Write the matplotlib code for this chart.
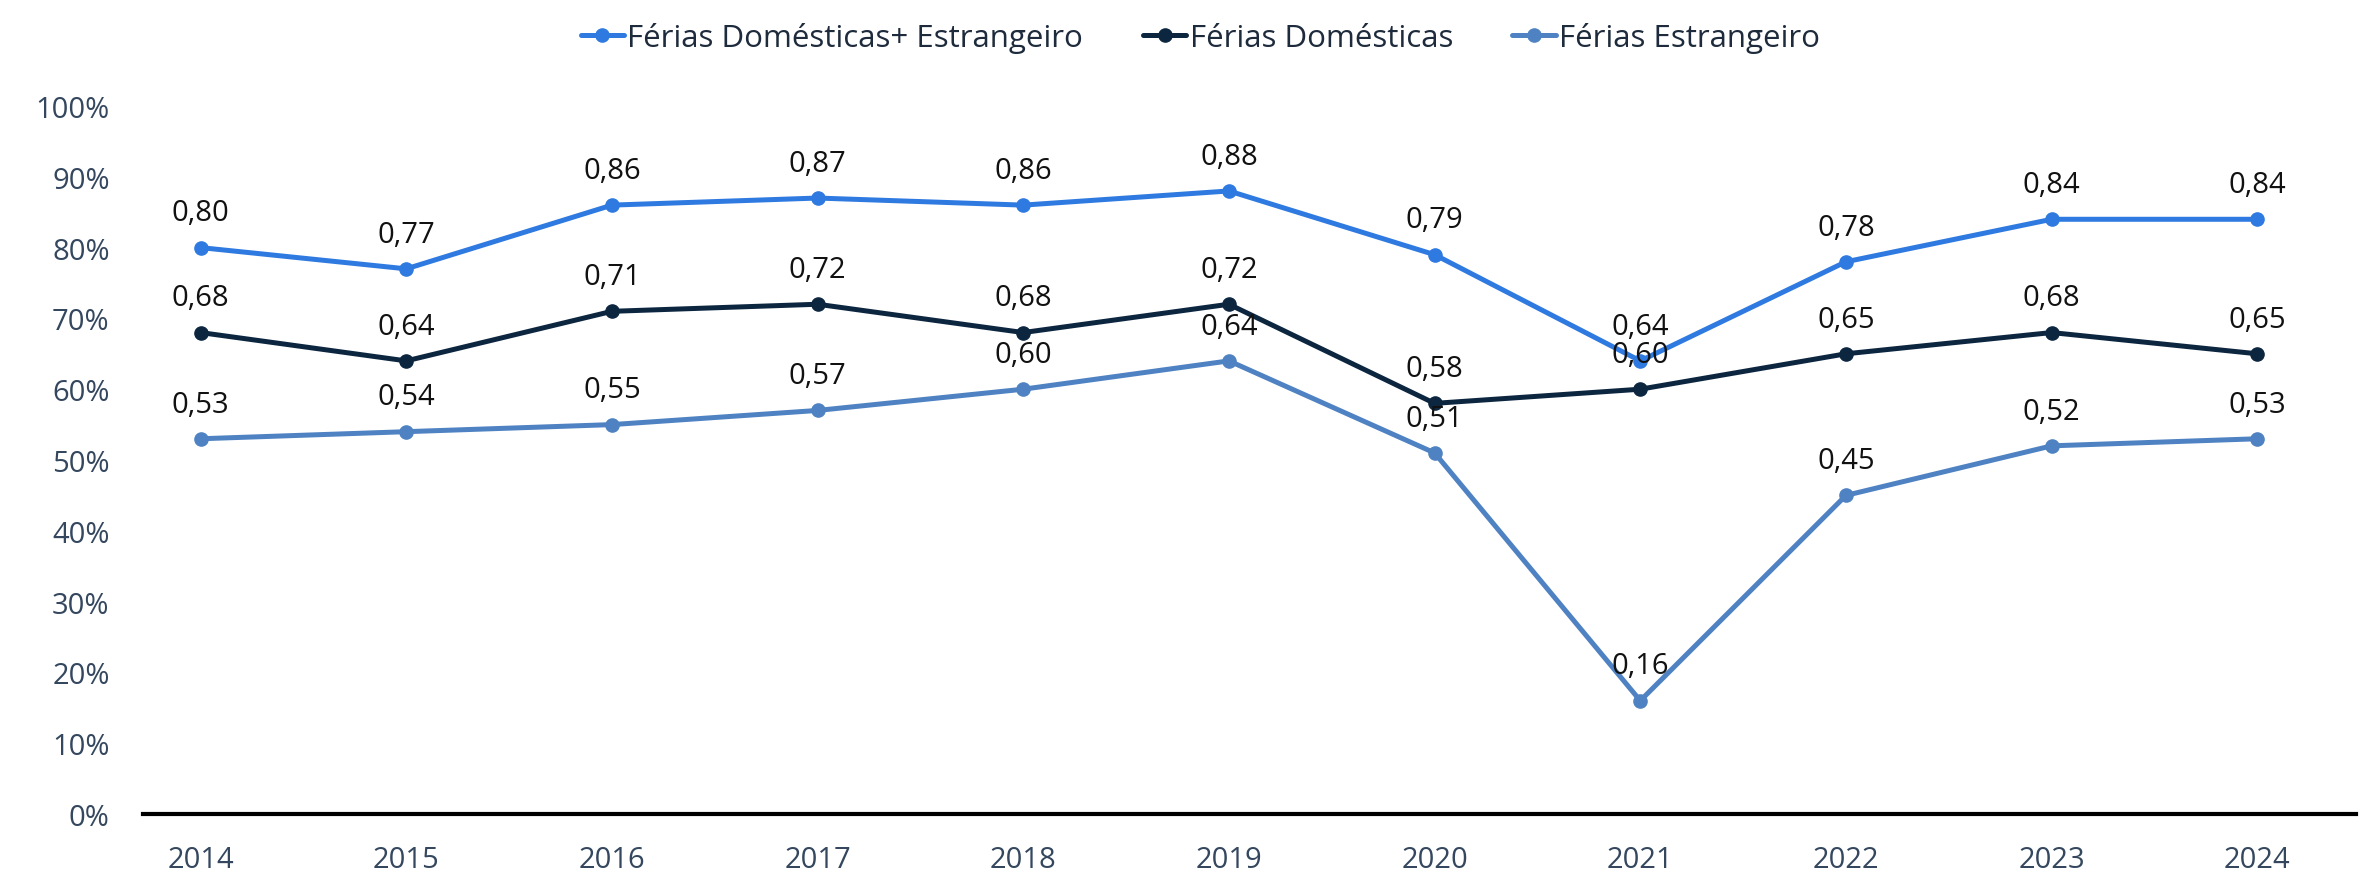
import matplotlib.pyplot as plt
from matplotlib.ticker import FuncFormatter

years = ['2014', '2015', '2016', '2017', '2018', '2019', '2020', '2021', '2022', '2023', '2024']
total = [0.80, 0.77, 0.86, 0.87, 0.86, 0.88, 0.79, 0.64, 0.78, 0.84, 0.84]
domestic = [0.68, 0.64, 0.71, 0.72, 0.68, 0.72, 0.58, 0.60, 0.65, 0.68, 0.65]
abroad = [0.53, 0.54, 0.55, 0.57, 0.60, 0.64, 0.51, 0.16, 0.45, 0.52, 0.53]
series_names = ['Férias Domésticas+ Estrangeiro', 'Férias Domésticas', 'Férias Estrangeiro']

COLORS = ['#2f7ae0', '#0d2640', '#4f82c2']
TICK = '#34475e'
FONT = 'Open Sans'

plt.rcParams['font.family'] = [FONT, 'DejaVu Sans']

fig = plt.figure(figsize=(23.63, 8.87), dpi=100)
ax = fig.add_axes([143 / 2363, 1 - 815 / 887, (2356 - 143) / 2363, (815 - 107) / 887])

x = list(range(len(years)))
handles = []
for vals, name, col in zip([total, domestic, abroad], series_names, COLORS):
    h, = ax.plot(x, vals, color=col, lw=3.6, marker='o', ms=9.5, label=name,
                 solid_capstyle='round')
    handles.append(h)
    for xi, v in zip(x, vals):
        ax.annotate(f'{v:.2f}'.replace('.', ','), (xi, v), xytext=(0, 25),
                    textcoords='offset points', ha='center', va='center',
                    fontsize=21, color='#111111')

ax.set_xlim(-0.28, 10.48)
ax.set_ylim(0, 1.0)
ax.set_yticks([i / 10 for i in range(11)])
ax.yaxis.set_major_formatter(FuncFormatter(lambda v, p: f'{v * 100:.0f}%'))
ax.set_xticks(x)
ax.set_xticklabels(years)
ax.tick_params(axis='both', length=0, labelsize=21, labelcolor=TICK)
ax.tick_params(axis='y', pad=24)
ax.tick_params(axis='x', pad=22)

for side in ['top', 'right', 'left']:
    ax.spines[side].set_visible(False)
ax.spines['bottom'].set_color('black')
ax.spines['bottom'].set_linewidth(3)

leg = fig.legend(handles=handles, loc='center', bbox_to_anchor=(0.508, 0.957), ncol=3,
                 frameon=False, fontsize=22.5, handlelength=1.4, handletextpad=0.1,
                 columnspacing=1.9)
for t in leg.get_texts():
    t.set_color('#1e2b3c')

fig.savefig('out.png', dpi=100, facecolor='white')
